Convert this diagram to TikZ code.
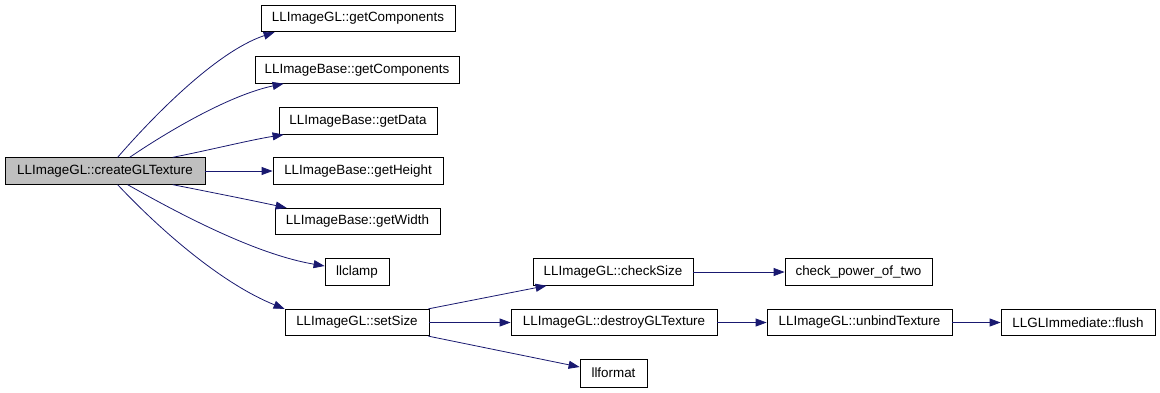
\documentclass[tikz,border=0pt]{standalone}
\usepackage{fontspec}
\setmainfont{Liberation Sans}
\usetikzlibrary{arrows.meta}
\definecolor{edgeblue}{HTML}{191970}
\definecolor{rootgray}{HTML}{BFBFBF}
\tikzset{
  fn/.style={draw=black, line width=0.8pt, fill=white, minimum height=26.5pt, inner sep=0pt,
    font=\fontsize{13.4}{15}\selectfont},
  root/.style={fn, fill=rootgray},
  call/.style={draw=edgeblue, line width=0.8pt, -{Triangle[length=11pt,width=8pt]}}
}
\begin{document}
\begin{tikzpicture}[x=1pt,y=-1pt]
\useasboundingbox (0,0) rectangle (1160,392);
\node[root, minimum width=200pt] (cg) at (105,171) {LLImageGL::createGLTexture};
\node[fn, minimum width=194pt] (gc) at (358,18.5) {LLImageGL::getComponents};
\node[fn, minimum width=204pt] (bc) at (357,70) {LLImageBase::getComponents};
\node[fn, minimum width=158pt] (gd) at (358,121) {LLImageBase::getData};
\node[fn, minimum width=170pt] (gh) at (358,171) {LLImageBase::getHeight};
\node[fn, minimum width=165pt] (gw) at (357.5,221.5) {LLImageBase::getWidth};
\node[fn, minimum width=64pt] (lc) at (357,272) {llclamp};
\node[fn, minimum width=144pt] (ss) at (357,322.5) {LLImageGL::setSize};
\node[fn, minimum width=160pt] (cs) at (613,272) {LLImageGL::checkSize};
\node[fn, minimum width=147pt] (cp) at (858.5,272) {check\_power\_of\_two};
\node[fn, minimum width=206pt] (dg) at (614,322.5) {LLImageGL::destroyGLTexture};
\node[fn, minimum width=185pt] (ub) at (859.5,322.5) {LLImageGL::unbindTexture};
\node[fn, minimum width=154pt] (fl) at (1078,322.5) {LLGLImmediate::flush};
\node[fn, minimum width=67pt, minimum height=28pt] (lf) at (613.5,373) {llformat};

\draw[call] ([xshift=113pt]cg.north west) .. controls (150,120) and (215,52) .. ([xshift=14pt]gc.south west);
\draw[call] ([xshift=125pt]cg.north west) .. controls (170,130) and (230,95) .. ([xshift=29pt]bc.south west);
\draw[call] ([xshift=168pt]cg.north west) .. controls (210,150) and (250,140) .. ([xshift=5pt]gd.south west);
\draw[call] (cg.east) -- (gh.west);
\draw[call] ([xshift=168pt]cg.south west) .. controls (210,192) and (250,200) .. ([xshift=12pt]gw.north west);
\draw[call] ([xshift=123pt]cg.south west) .. controls (190,220) and (260,255) .. ([yshift=6pt]lc.west);
\draw[call] ([xshift=113pt]cg.south west) .. controls (165,235) and (225,285) .. ([yshift=0pt]ss.north west);
\draw[call] ([xshift=-1pt]ss.north east) -- ([xshift=14pt]cs.south west);
\draw[call] (ss.east) -- (dg.west);
\draw[call] ([xshift=-1pt]ss.south east) -- ([yshift=6pt]lf.west);
\draw[call] (cs.east) -- (cp.west);
\draw[call] (dg.east) -- (ub.west);
\draw[call] (ub.east) -- (fl.west);
\end{tikzpicture}
\end{document}
